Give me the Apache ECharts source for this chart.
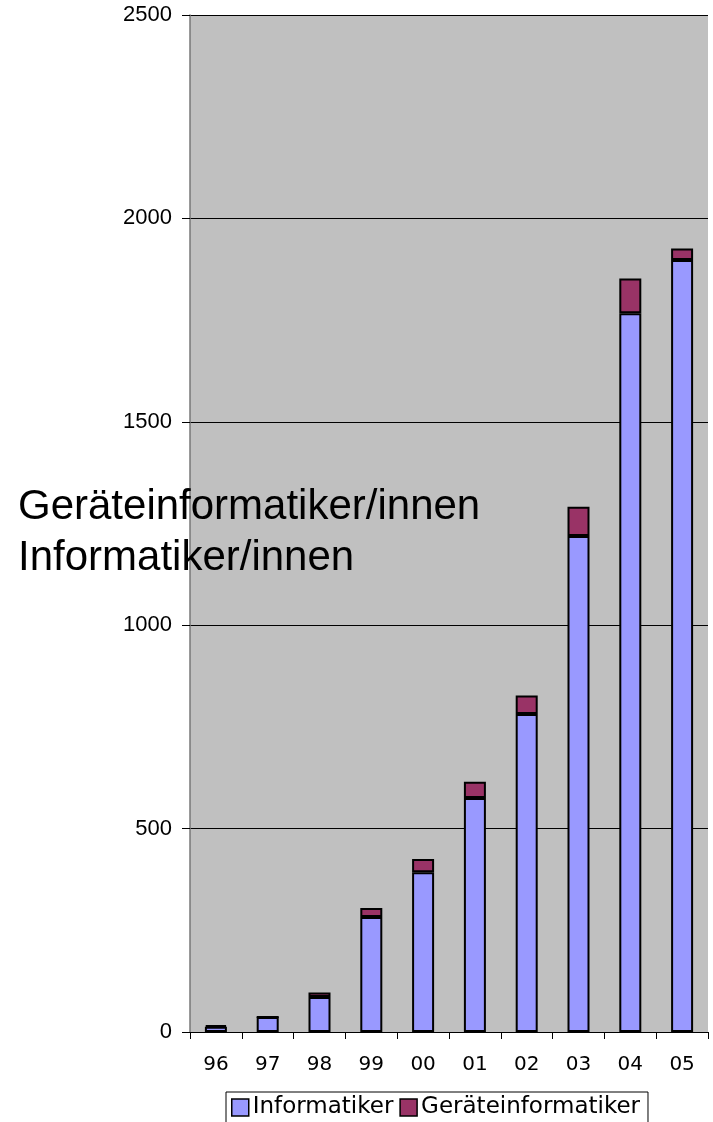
<!DOCTYPE html>
<html>
<head>
<meta charset="utf-8">
<script src="https://cdn.jsdelivr.net/npm/echarts@6/dist/echarts.min.js"></script>
<style>
html,body{margin:0;padding:0;background:#fff;}
#chart{width:713px;height:1122px;}
</style>
</head>
<body>
<div id="chart"></div>
<script>
var categories = ['96','97','98','99','00','01','02','03','04','05'];
var informatiker = [13, 37, 86, 283, 393, 575, 782, 1219, 1767, 1898];
var geraeteinformatiker = [4, 0, 11, 22, 32, 40, 45, 72, 85, 28];
var seriesNames = ['Informatiker', 'Geräteinformatiker'];
var titleLines = ['Geräteinformatiker/innen', 'Informatiker/innen'];
var yMin = 0, yMax = 2500, yInterval = 500;

var chart = echarts.init(document.getElementById('chart'), null, {renderer: 'canvas'});
var option = {
  animation: false,
  backgroundColor: '#ffffff',
  grid: {
    left: 190, right: 5, top: 15, bottom: 90,
    show: true, backgroundColor: '#c0c0c0', borderWidth: 0
  },
  legend: {
    data: seriesNames,
    left: 226, top: 1092,
    orient: 'horizontal',
    itemWidth: 17, itemHeight: 17, itemGap: 6,
    icon: 'rect',
    borderColor: '#000', borderWidth: 1,
    padding: [4, 8, 10, 5],
    textStyle: {fontFamily: 'DejaVu Sans', fontSize: 23, color: '#000', padding: [0, 0, 0, -1]},
    itemStyle: {borderColor: '#000', borderWidth: 1.5}
  },
  xAxis: {
    type: 'category',
    data: categories,
    axisLine: {show: true, lineStyle: {color: '#000', width: 1}},
    axisTick: {show: true, alignWithLabel: false, length: 7, lineStyle: {color: '#000'}},
    axisLabel: {fontFamily: 'DejaVu Sans', fontSize: 20, color: '#000', margin: 23},
    splitLine: {show: false}
  },
  yAxis: {
    type: 'value',
    min: yMin, max: yMax, interval: yInterval,
    axisLine: {show: true, lineStyle: {color: '#777', width: 1.5}},
    axisTick: {show: true, length: 8, lineStyle: {color: '#000'}},
    axisLabel: {
      fontFamily: 'Liberation Sans', fontSize: 22, color: '#000', margin: 18,
      formatter: function (v) { return String(v); }
    },
    splitLine: {show: true, lineStyle: {color: '#000', width: 1}}
  },
  series: [
    {
      name: seriesNames[0], type: 'bar', stack: 'total', barWidth: 22,
      data: informatiker,
      itemStyle: {color: '#9999ff', borderColor: '#000', borderWidth: 2}
    },
    {
      name: seriesNames[1], type: 'bar', stack: 'total', barWidth: 22,
      data: geraeteinformatiker,
      itemStyle: {color: '#993366', borderColor: '#000', borderWidth: 2}
    }
  ],
  graphic: [
    {
      type: 'text', left: 18, top: 486, z: 100,
      style: {text: titleLines[0], font: '42px "Liberation Sans"', fill: '#000'}
    },
    {
      type: 'text', left: 18, top: 537, z: 100,
      style: {text: titleLines[1], font: '42px "Liberation Sans"', fill: '#000'}
    }
  ]
};
chart.setOption(option);
</script>
</body>
</html>
